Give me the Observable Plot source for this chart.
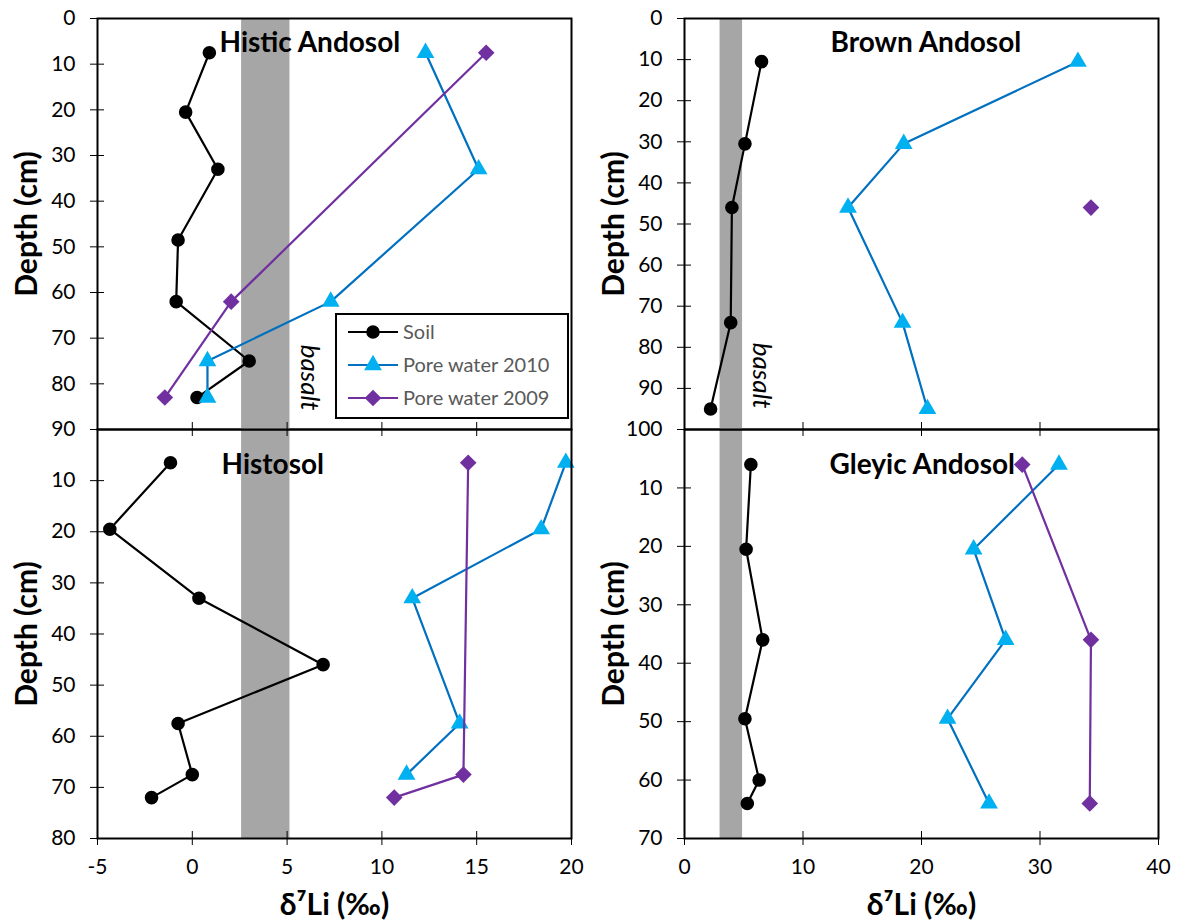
<!DOCTYPE html>
<html><head><meta charset="utf-8">
<script src="https://cdn.jsdelivr.net/npm/d3@7"></script>
<script src="https://cdn.jsdelivr.net/npm/@observablehq/plot@0.6"></script>
<style>
body{margin:0;background:#fff;}
#chart{position:relative;width:1181px;height:920px;font-family:Lato, sans-serif;}
#chart > svg, #chart > div{position:absolute;}
</style></head><body><div id="chart"></div>
<script>
// ---- series definitions ----
const seriesNames = ["Soil", "Pore water 2010", "Pore water 2009"];
const seriesStroke = ["#000000", "#0070C0", "#7030A0"];
const seriesFill = ["#000000", "#00B0F0", "#7030A0"];
const seriesSymbol = ["circle", "triangle", "diamond2"];
const seriesR = [6.8, 6.6, 7.5];

// ---- Histic Andosol ----
const soilDepthHA = [7.5, 20.5, 33, 48.5, 62, 75, 83];
const soilHA = [0.9, -0.35, 1.35, -0.75, -0.85, 3.0, 0.25];
const pw2010DepthHA = [7.5, 33, 62, 75, 83];
const pw2010HA = [12.3, 15.1, 7.3, 0.8, 0.8];
const pw2009DepthHA = [7.5, 62, 83];
const pw2009HA = [15.5, 2.05, -1.45];

// ---- Brown Andosol ----
const soilDepthBA = [10.5, 30.5, 46, 74, 95];
const soilBA = [6.5, 5.1, 4.0, 3.9, 2.2];
const pw2010DepthBA = [10.5, 30.5, 46, 74, 95];
const pw2010BA = [33.2, 18.5, 13.8, 18.4, 20.5];
const pw2009DepthBA = [46];
const pw2009BA = [34.3];

// ---- Histosol ----
const soilDepthHS = [6.5, 19.5, 33, 46, 57.5, 67.5, 72];
const soilHS = [-1.15, -4.35, 0.35, 6.9, -0.75, 0.0, -2.15];
const pw2010DepthHS = [6.5, 19.5, 33, 57.5, 67.5];
const pw2010HS = [19.7, 18.4, 11.6, 14.1, 11.3];
const pw2009DepthHS = [6.5, 67.5, 72];
const pw2009HS = [14.55, 14.3, 10.65];

// ---- Gleyic Andosol ----
const soilDepthGA = [6, 20.5, 36, 49.5, 60, 64];
const soilGA = [5.6, 5.2, 6.6, 5.1, 6.3, 5.3];
const pw2010DepthGA = [6, 20.5, 36, 49.5, 64];
const pw2010GA = [31.6, 24.4, 27.1, 22.2, 25.7];
const pw2009DepthGA = [6, 36, 64];
const pw2009GA = [28.5, 34.3, 34.2];

// ---- basalt range (δ7Li) ----
const basaltLeft = [2.6, 5.15];
const basaltRight = [3.0, 4.9];

// ---- axes ----
const xTicksLeft = [-5, 0, 5, 10, 15, 20];
const xTicksRight = [0, 10, 20, 30, 40];
const yTicksHA = [0, 10, 20, 30, 40, 50, 60, 70, 80, 90];
const yTicksBA = [0, 10, 20, 30, 40, 50, 60, 70, 80, 90, 100];
const yTicksHS = [10, 20, 30, 40, 50, 60, 70, 80];
const yTicksGA = [10, 20, 30, 40, 50, 60, 70];
const yLabel = "Depth (cm)";
const xLabel = "δ⁷Li (‰)";
const basaltText = "basalt";

function mkSeries(xs, ys, i) {
  return xs.map((v, k) => ({x: v, y: ys[k], s: seriesNames[i]}));
}

const chart = document.getElementById("chart");

function panel(o) {
  const marks = [
    Plot.rect([o.band], {x1: d => d[0], x2: d => d[1], fill: "#a6a6a6"}),
  ];
  o.series.forEach((data, i) => {
    marks.push(Plot.line(data, {x: "x", y: "y", stroke: seriesStroke[i], strokeWidth: 2.2}));
    marks.push(Plot.dot(data, {x: "x", y: "y", symbol: () => seriesSymbol[i], fill: seriesFill[i], stroke: "none", r: seriesR[i]}));
  });
  marks.push(Plot.frame({stroke: "black", strokeWidth: 2}));
  marks.push(Plot.axisY({ticks: o.yTicks, tickSize: 14, dx: 7, tickPadding: 15, fontSize: 21, label: null, tickFormat: d => String(d)}));
  marks.push(Plot.text([yLabel], {text: d => d, frameAnchor: "left", textAnchor: "middle", lineAnchor: "middle", rotate: -90, dx: -70, fontSize: 30, fontWeight: "bold", fill: "black"}));
  if (o.showX) {
    marks.push(Plot.axisX({ticks: o.xTicks, tickSize: 14, dy: -7, tickPadding: 14, fontSize: 21, label: null, tickFormat: d => String(d)}));
    marks.push(Plot.text([xLabel], {text: d => d, frameAnchor: "bottom", lineAnchor: "middle", dy: 67, fontSize: 30, fontWeight: "bold", fill: "black"}));
  } else {
    marks.push(Plot.axisX({ticks: o.xTicks, tickSize: 14, dy: -7, label: null, tickFormat: () => ""}));
  }
  marks.push(Plot.text([o.title], {text: d => d, frameAnchor: "top-left", textAnchor: "start", lineAnchor: "middle", dx: o.titleDx, dy: o.titleDy, fontSize: 28, fontWeight: "bold", fill: "black"}));
  if (o.basalt) {
    marks.push(Plot.text([basaltText], {text: d => d, x: () => o.band[1], frameAnchor: "bottom", rotate: 90, textAnchor: "end", dx: o.basalt[0], dy: o.basalt[1], fontSize: 26, fontStyle: "italic", fill: "black"}));
  }
  const svg = Plot.plot({
    width: o.width, height: o.height,
    marginLeft: o.mL, marginRight: o.mR, marginTop: o.mT, marginBottom: o.mB,
    x: {domain: o.xDomain},
    y: {domain: o.yDomain, reverse: true},
    style: {background: "transparent", color: "black", fontFamily: "Lato, sans-serif", overflow: "visible"},
    marks
  });
  svg.style.left = o.left + "px";
  svg.style.top = o.top + "px";
  chart.appendChild(svg);
}

// bottom panels first, top panels drawn over
panel({title: "Histosol", xDomain: [-5, 20], xTicks: xTicksLeft, yDomain: [0, 80], yTicks: yTicksHS,
  band: basaltLeft, showX: true, left: 0, top: 429, width: 590, height: 491, mL: 97, mR: 19, mT: 0, mB: 82,
  titleDx: 124, titleDy: 36,
  series: [mkSeries(soilHS, soilDepthHS, 0), mkSeries(pw2010HS, pw2010DepthHS, 1), mkSeries(pw2009HS, pw2009DepthHS, 2)]});
panel({title: "Gleyic Andosol", xDomain: [0, 40], xTicks: xTicksRight, yDomain: [0, 70], yTicks: yTicksGA,
  band: basaltRight, showX: true, left: 590, top: 429, width: 591, height: 491, mL: 94, mR: 23, mT: 0, mB: 82,
  titleDx: 145, titleDy: 36,
  series: [mkSeries(soilGA, soilDepthGA, 0), mkSeries(pw2010GA, pw2010DepthGA, 1), mkSeries(pw2009GA, pw2009DepthGA, 2)]});
panel({title: "Histic Andosol", xDomain: [-5, 20], xTicks: xTicksLeft, yDomain: [0, 90], yTicks: yTicksHA,
  band: basaltLeft, showX: false, left: 0, top: 0, width: 590, height: 445, mL: 97, mR: 19, mT: 18, mB: 16,
  titleDx: 122, titleDy: 25, basalt: [11, -19],
  series: [mkSeries(soilHA, soilDepthHA, 0), mkSeries(pw2010HA, pw2010DepthHA, 1), mkSeries(pw2009HA, pw2009DepthHA, 2)]});
panel({title: "Brown Andosol", xDomain: [0, 40], xTicks: xTicksRight, yDomain: [0, 100], yTicks: yTicksBA,
  band: basaltRight, showX: false, left: 590, top: 0, width: 591, height: 445, mL: 94, mR: 23, mT: 18, mB: 16,
  titleDx: 146, titleDy: 25, basalt: [10, -21],
  series: [mkSeries(soilBA, soilDepthBA, 0), mkSeries(pw2010BA, pw2010DepthBA, 1), mkSeries(pw2009BA, pw2009DepthBA, 2)]});

// ---- legend (inside Histic Andosol panel) ----
const lg = d3.create("svg").attr("width", 234).attr("height", 106)
  .style("left", "335px").style("top", "313px").style("position", "absolute").style("overflow", "visible");
lg.append("rect").attr("x", 1).attr("y", 1).attr("width", 232).attr("height", 104)
  .attr("fill", "white").attr("stroke", "black").attr("stroke-width", 2);
seriesNames.forEach((name, i) => {
  const cy = 19 + i * 33;
  lg.append("line").attr("x1", 13).attr("x2", 63).attr("y1", cy).attr("y2", cy)
    .attr("stroke", seriesStroke[i]).attr("stroke-width", 2.2);
  const sym = {circle: d3.symbolCircle, triangle: d3.symbolTriangle, diamond2: d3.symbolDiamond2}[seriesSymbol[i]];
  const r = seriesR[i];
  lg.append("path").attr("d", d3.symbol(sym, Math.PI * r * r)())
    .attr("transform", `translate(38,${cy})`).attr("fill", seriesFill[i]);
  lg.append("text").attr("x", 68).attr("y", cy).attr("dy", "0.35em")
    .attr("font-size", 20).attr("fill", "#595959").attr("font-family", "Lato, sans-serif").text(name);
});
chart.appendChild(lg.node());
</script></body></html>
